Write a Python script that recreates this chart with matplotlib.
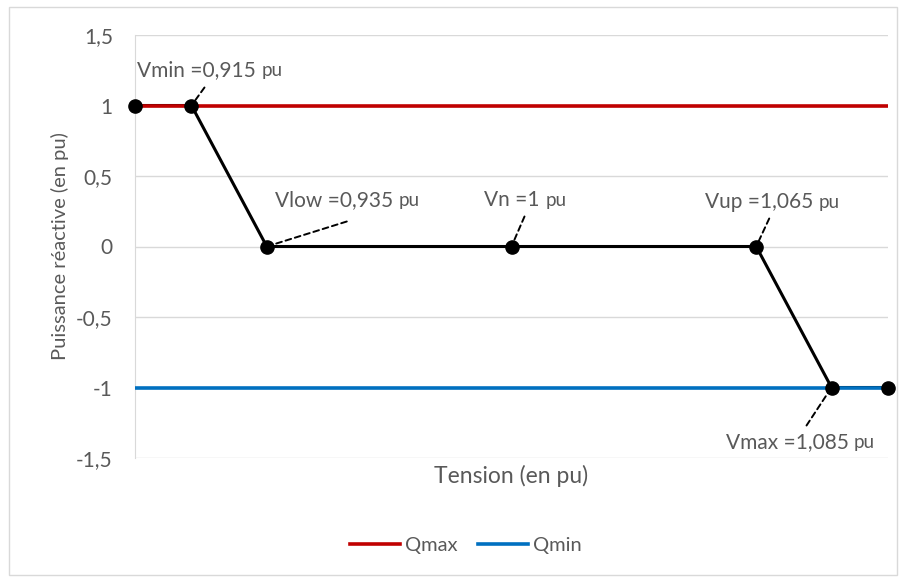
import matplotlib.pyplot as plt
from matplotlib.ticker import FuncFormatter

plt.rcParams['font.family'] = ['Lato', 'DejaVu Sans']

# loi Q(U)
tension = [0.9, 0.915, 0.935, 1.0, 1.065, 1.085, 1.1]
puissance = [1, 1, 0, 0, 0, -1, -1]
x_lim = [0.9, 1.1]
qmax = [1, 1]
qmin = [-1, -1]

# étiquettes des points caractéristiques
noms = ['Vmin =', 'Vlow =', 'Vn =', 'Vup =', 'Vmax =']
valeurs = ['0,915', '0,935', '1', '1,065', '1,085']
pts_x = [0.915, 0.935, 1.0, 1.065, 1.085]
pts_y = [1, 0, 0, 0, -1]
# décalages en pixels: bout du tiret, texte
fin_tiret = [(13, 18), (80, 25), (13, 30), (13, 28), (-25, -38)]
pos_texte = [(-54, 35), (8, 46), (-27, 46), (-51, 44), (-106, -55)]

gris = '#595959'
fig = plt.figure(figsize=(9.02, 5.78), dpi=100)
ax = fig.add_axes([135/902, 1-458/578, (888-135)/902, (458-35)/578])

ax.plot(tension, puissance, color='black', lw=2.2, zorder=2)
ax.plot(x_lim, qmax, color='#c00000', lw=2.6, label='Qmax', zorder=4)
ax.plot(x_lim, qmin, color='#0070c0', lw=2.6, label='Qmin', zorder=4)
ax.plot(tension, puissance, 'o', color='black', ms=9.5, zorder=5, clip_on=False)

for nom, val, x, y, d, t in zip(noms, valeurs, pts_x, pts_y, fin_tiret, pos_texte):
    ax.annotate('', xy=(x, y), xytext=d, textcoords='offset pixels',
                arrowprops=dict(arrowstyle='-', ls=(0, (3, 2)), color='black', lw=1.4,
                                shrinkA=0, shrinkB=4), zorder=6)
    txt = ax.annotate(nom + val + ' ', xy=(x, y), xytext=t, textcoords='offset pixels',
                      ha='left', va='center', fontsize=15, color=gris, zorder=7)
    ax.annotate('pu', xy=(1, 0.49), xycoords=txt, ha='left', va='center',
                fontsize=13.5, color=gris, zorder=7)

ax.set_xlim(x_lim)
ax.set_ylim(-1.5, 1.5)
ax.set_yticks([-1.5, -1, -0.5, 0, 0.5, 1, 1.5])
ax.yaxis.set_major_formatter(FuncFormatter(lambda v, p: ('%g' % v).replace('.', ',')))
ax.set_xticks([])
ax.grid(axis='y', color='#d9d9d9', lw=1)
ax.set_axisbelow(True)
for s in ['top', 'right', 'bottom']:
    ax.spines[s].set_visible(False)
ax.spines['left'].set_color('#d9d9d9')
ax.tick_params(axis='y', length=0, labelsize=15, labelcolor=gris, pad=16)

ax.set_ylabel('Puissance réactive (en pu)', fontsize=14.5, color=gris, labelpad=5)
ax.set_xlabel('Tension (en pu)', fontsize=16.5, color=gris, labelpad=5)

fig.legend(loc='center', bbox_to_anchor=(466/902, 1-545/578), ncol=2, frameon=False,
           fontsize=14.5, labelcolor=gris, handlelength=2.5, handletextpad=0.25,
           columnspacing=1.0)

fig.patches.append(plt.Rectangle((9/902, 3/578), 1-14/902, 1-10/578, transform=fig.transFigure,
                                 fill=False, edgecolor='#d9d9d9', lw=1))

fig.savefig('out.png', dpi=100)
